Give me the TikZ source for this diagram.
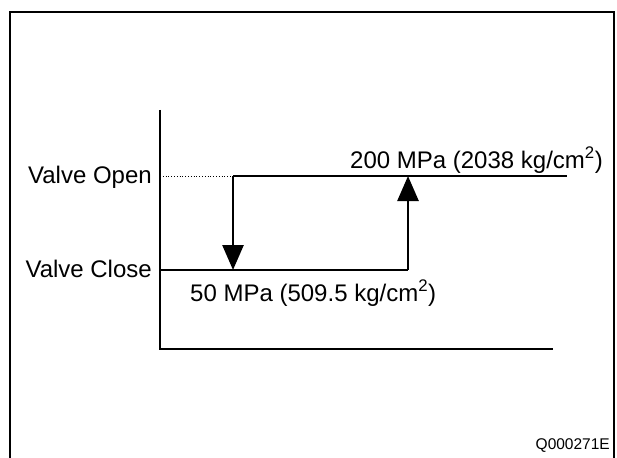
\documentclass[tikz,border=0pt]{standalone}
\usepackage{fontspec}
\setmainfont{Liberation Sans}
\usetikzlibrary{arrows.meta}
\begin{document}
\begin{tikzpicture}[x=1pt,y=-1pt,
  frame/.style={line width=2pt},
  axis/.style={line width=1.8pt},
  stepline/.style={line width=2.6pt},
  guide/.style={line width=0.8pt,dotted},
  flow/.style={line width=2.6pt,-{Triangle[length=25pt,width=21pt]}},
  lbl/.style={font=\fontsize{24}{28}\selectfont,inner sep=0pt},
  code/.style={font=\fontsize{15.5}{18}\selectfont,inner sep=0pt}]
\useasboundingbox (0,0) rectangle (617,457);
\draw[frame] (10,460) -- (10,12) -- (614,12) -- (614,460);
% axes
\coordinate (ytop) at (160,110);
\coordinate (orig) at (160,349);
\coordinate (xend) at (553,349);
\draw[axis] (ytop) -- (orig) -- (xend);
% levels
\coordinate (openL) at (160,176);
\coordinate (openA) at (233,176);
\coordinate (openB) at (408,176);
\coordinate (openE) at (567,176);
\coordinate (closeL) at (160,270);
\coordinate (closeA) at (233,270);
\coordinate (closeB) at (408,270);
\draw[guide] (openL) -- (openA);
\draw[stepline] (openA) -- (openE);
\draw[stepline] (closeL) -- (closeB);
\draw[flow] (openA) -- (closeA);
\draw[flow] (closeB) -- (openB);
% labels
\node[lbl,anchor=east] (vo) at (152,177) {Valve Open};
\node[lbl,anchor=east] (vc) at (152,269) {Valve Close};
\node[lbl,anchor=base east] (p200) at (603,168) {200 MPa (2038 kg/cm\textsuperscript{2})};
\node[lbl,anchor=base west] (p50) at (190,301) {50 MPa (509.5 kg/cm\textsuperscript{2})};
\node[code,anchor=base east] (qid) at (610,449) {Q000271E};
\end{tikzpicture}
\end{document}
